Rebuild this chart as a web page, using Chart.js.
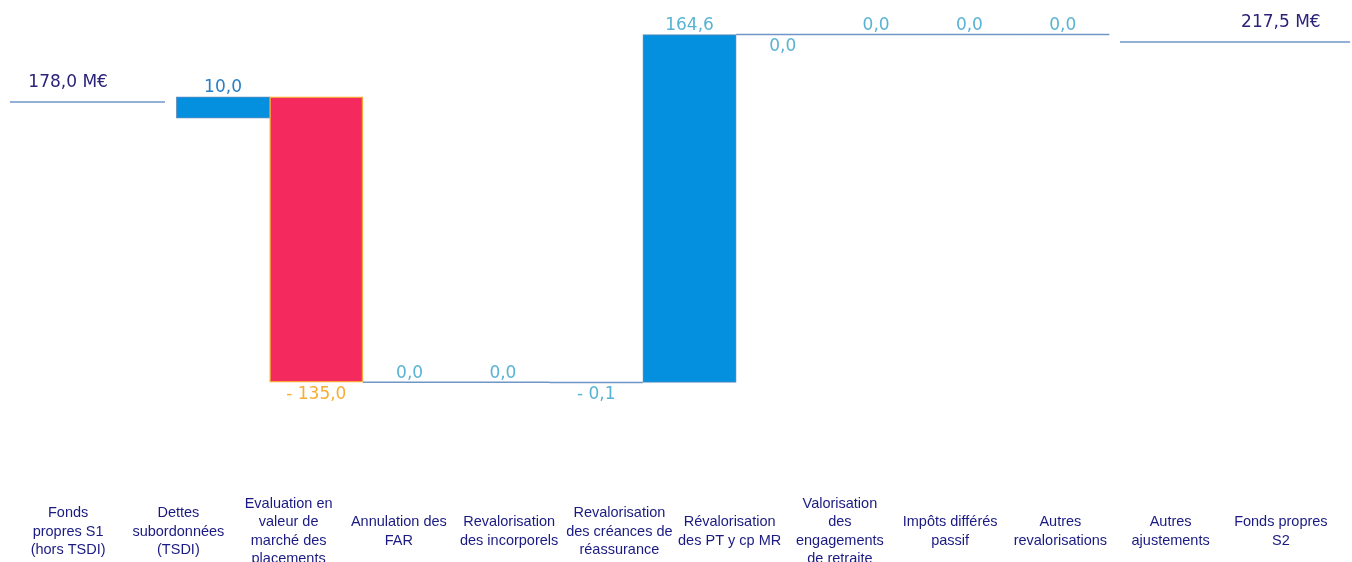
<!DOCTYPE html>
<html>
<head>
<meta charset="utf-8">
<script src="https://cdn.jsdelivr.net/npm/chart.js@4"></script>
<style>
  html, body { margin: 0; padding: 0; background: #fff; overflow: hidden; }
  #wrap { width: 1352px; height: 600px; }
</style>
</head>
<body>
<div id="wrap"><canvas id="waterfallChart"></canvas></div>
<script>
const categories = [
    ['Fonds', 'propres S1', '(hors TSDI)'],
    ['Dettes', 'subordonnées', '(TSDI)'],
    ['Evaluation en', 'valeur de', 'marché des', 'placements'],
    ['Annulation des', 'FAR'],
    ['Revalorisation', 'des incorporels'],
    ['Revalorisation', 'des créances de', 'réassurance'],
    ['Révalorisation', 'des PT y cp MR'],
    ['Valorisation', 'des', 'engagements', 'de retraite'],
    ['Impôts différés', 'passif'],
    ['Autres', 'revalorisations'],
    ['Autres', 'ajustements'],
    ['Fonds propres', 'S2']
];
const stepValues = [178.0, 10.0, -135.0, 0.0, 0.0, -0.1, 164.6, 0.0, 0.0, 0.0, 0.0, 217.5];
const valueLabels = ['178,0 M€', '10,0', '- 135,0', '0,0', '0,0', '- 0,1', '164,6', '0,0', '0,0', '0,0', '0,0', '217,5 M€'];
// the two total lines do not sit exactly on their values in the picture
const totalLevels = [185.6, 214.0];
const labelBelow = [false, false, true, false, false, true, false, true, false, false, false, false];
const labelColours = ['#2b2378', '#2a7ec6', '#f7ad35', '#58b3d4', '#58b3d4', '#58b3d4',
                      '#58b3d4', '#58b3d4', '#58b3d4', '#58b3d4', '#58b3d4', '#2b2378'];

// running level before / after each step
const starts = [], ends = [];
let run = stepValues[0];
for (let i = 1; i < stepValues.length - 1; i++) {
    starts[i] = run;
    run += stepValues[i];
    ends[i] = run;
}

const barPoints = [], barColours = [], barBorders = [], barBorderWidths = [];
const flatLine = [];
for (let i = 1; i < stepValues.length - 1; i++) {
    if (Math.abs(stepValues[i]) >= 1) {
        barPoints.push({x: i, y: [Math.min(starts[i], ends[i]), Math.max(starts[i], ends[i])]});
        barColours.push(stepValues[i] > 0 ? '#0590df' : '#f42a5e');
        barBorders.push(stepValues[i] > 0 ? '#5f8dbd' : '#f7a43a');
        barBorderWidths.push(stepValues[i] > 0 ? 1 : 1.5);
    } else {
        flatLine.push({x: i - 0.5, y: ends[i]}, {x: i + 0.5, y: ends[i]}, {x: i + 0.5, y: null});
    }
}

const lineColour = '#7096c8';

const valueLabelPlugin = {
    id: 'valueLabels',
    afterDatasetsDraw(chart) {
        const ctx = chart.ctx;
        const sx = chart.scales.x, sx2 = chart.scales.x2, sy = chart.scales.y;
        ctx.save();
        ctx.font = '17px "DejaVu Sans"';
        ctx.textAlign = 'center';
        ctx.textBaseline = 'middle';
        valueLabels.forEach((txt, i) => {
            let x, y;
            if (i === 0 || i === valueLabels.length - 1) {
                x = sx.getPixelForValue(i);
                y = sy.getPixelForValue(totalLevels[i === 0 ? 0 : 1]) - 19;
            } else {
                x = sx2.getPixelForValue(i);
                const top = Math.max(starts[i], ends[i]);
                const bottom = Math.min(starts[i], ends[i]);
                y = labelBelow[i] ? sy.getPixelForValue(bottom) + 12 : sy.getPixelForValue(top) - 9;
            }
            ctx.fillStyle = labelColours[i];
            ctx.fillText(txt, x, y);
        });
        ctx.restore();
    }
};

const ctx = document.getElementById('waterfallChart').getContext('2d');
new Chart(ctx, {
    type: 'bar',
    data: {
        labels: categories,
        datasets: [{
            type: 'bar',
            xAxisID: 'x2',
            data: barPoints,
            backgroundColor: barColours,
            borderColor: barBorders,
            borderWidth: barBorderWidths,
            borderSkipped: false,
            barPercentage: 1,
            categoryPercentage: 1,
            grouped: false
        }, {
            type: 'line',
            xAxisID: 'x2',
            data: flatLine,
            borderColor: lineColour,
            borderWidth: 1.5,
            pointRadius: 0,
            fill: false
        }, {
            type: 'line',
            xAxisID: 'x2',
            data: [{x: -1.283, y: totalLevels[0]}, {x: 0.378, y: totalLevels[0]}],
            borderColor: lineColour,
            borderWidth: 1.5,
            pointRadius: 0,
            fill: false,
            clip: false
        }, {
            type: 'line',
            xAxisID: 'x2',
            data: [{x: 10.614, y: totalLevels[1]}, {x: 13.08, y: totalLevels[1]}],
            borderColor: lineColour,
            borderWidth: 1.5,
            pointRadius: 0,
            fill: false,
            clip: false
        }]
    },
    options: {
        responsive: true,
        maintainAspectRatio: false,
        animation: false,
        layout: { padding: { left: 13, right: 16, top: 0, bottom: 0 } },
        plugins: {
            legend: { display: false },
            tooltip: { enabled: false }
        },
        scales: {
            x: {
                type: 'category',
                offset: true,
                grid: { display: false, drawTicks: false },
                border: { display: false },
                ticks: {
                    autoSkip: false,
                    maxRotation: 0,
                    minRotation: 0,
                    padding: 22,
                    crossAlign: 'center',
                    color: '#1a1a82',
                    font: { family: "'Liberation Sans', Arial, sans-serif", size: 14.5, lineHeight: 1.28 }
                }
            },
            x2: {
                type: 'linear',
                display: false,
                offset: false,
                grid: { offset: false },
                min: -1.251,
                max: 12.929,
                afterBuildTicks: axis => {
                    axis.ticks = categories.map((c, i) => ({value: i}));
                }
            },
            y: {
                display: false,
                min: 5.88,
                max: 233.88
            }
        }
    },
    plugins: [valueLabelPlugin]
});
</script>
</body>
</html>
